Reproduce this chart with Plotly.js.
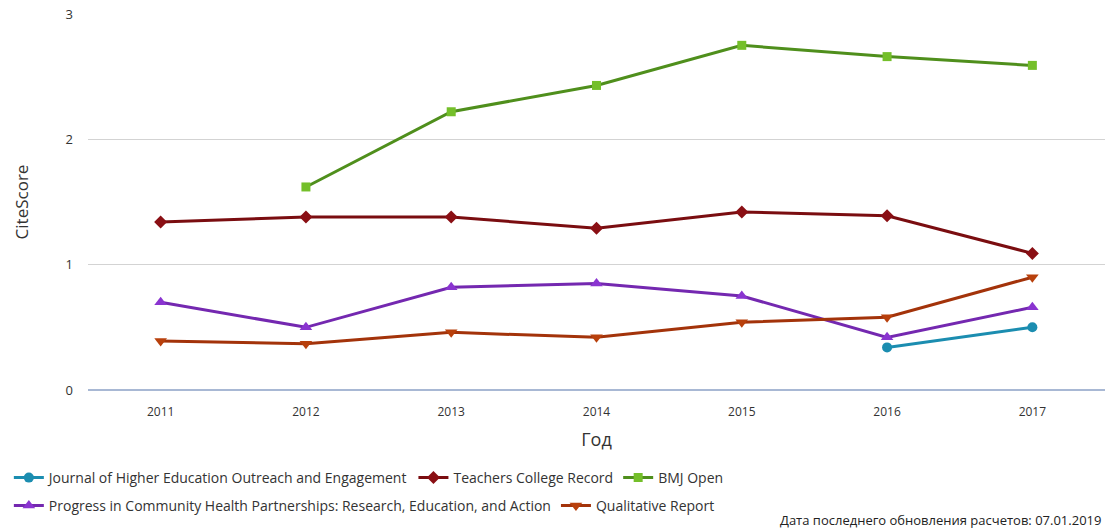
<!DOCTYPE html>
<html>
<head>
<meta charset="utf-8">
<script src="https://cdn.plot.ly/plotly-3.0.1.min.js"></script>
<style>html,body{margin:0;padding:0;background:#fff;}#chart{width:1106px;height:530px;}</style>
</head>
<body>
<div id="chart"></div>
<script>
const years = [2011, 2012, 2013, 2014, 2015, 2016, 2017];
const journalHEOE = [null, null, null, null, null, 0.34, 0.50];
const teachersCollege = [1.34, 1.38, 1.38, 1.29, 1.42, 1.39, 1.09];
const bmjOpen = [null, 1.62, 2.22, 2.43, 2.75, 2.66, 2.59];
const progressCHP = [0.70, 0.50, 0.82, 0.85, 0.75, 0.42, 0.66];
const qualitativeReport = [0.39, 0.37, 0.46, 0.42, 0.54, 0.58, 0.90];
const seriesNames = [
  "Journal of Higher Education Outreach and Engagement",
  "Teachers College Record",
  "BMJ Open",
  "Progress in Community Health Partnerships: Research, Education, and Action",
  "Qualitative Report"
];
const yTicks = [0, 1, 2, 3];
const xTitle = "Год";
const yTitle = "CiteScore";
const footnote = "Дата последнего обновления расчетов: 07.01.2019";

function tr(name, y, color, symbol, size, lineColor, legendId) {
  return {
    x: years, y: y, name: name, type: 'scatter', mode: 'lines+markers',
    connectgaps: false, legend: legendId,
    line: {color: lineColor || color, width: 3},
    marker: {color: color, symbol: symbol, size: size, line: {width: 0}}
  };
}
const data = [
  tr(seriesNames[0], journalHEOE, '#1b8db0', 'circle', 10, null, 'legend'),
  tr(seriesNames[1], teachersCollege, '#8a0f14', 'diamond', 10, '#7a0d10', 'legend'),
  tr(seriesNames[2], bmjOpen, '#74bf2a', 'square', 9, '#4f8f1c', 'legend'),
  tr(seriesNames[3], progressCHP, '#8a34d0', 'triangle-up', 11, '#7428b0', 'legend2'),
  tr(seriesNames[4], qualitativeReport, '#b8400c', 'triangle-down', 11, '#a3330a', 'legend2')
];
const legendBase = {
  orientation: 'h', xref: 'container', yref: 'container',
  xanchor: 'left', yanchor: 'middle',
  font: {size: 14, color: '#333'}, itemwidth: 30, bgcolor: 'rgba(0,0,0,0)'
};
const layout = {
  width: 1106, height: 530,
  margin: {l: 88, r: 1, t: 14, b: 140},
  paper_bgcolor: '#fff', plot_bgcolor: '#fff',
  font: {family: 'Open Sans, sans-serif', color: '#333', size: 12},
  showlegend: true,
  legend: Object.assign({}, legendBase, {x: 0.008, y: 1 - 478 / 530}),
  legend2: Object.assign({}, legendBase, {x: 0.008, y: 1 - 506 / 530}),
  xaxis: {
    range: [2010.5, 2017.5], tickvals: years, ticktext: years.map(String),
    showgrid: false, zeroline: false, showline: false,
    ticks: '', ticklabelstandoff: 13, tickfont: {size: 12, color: '#333'},
    title: {text: xTitle, font: {size: 18, color: '#333'}, standoff: 14}
  },
  yaxis: {
    range: [0, 3], tickvals: yTicks, showgrid: true, gridcolor: '#d3d3d3', gridwidth: 1,
    zeroline: true, zerolinecolor: '#a8b8d4', zerolinewidth: 1.5,
    showline: false, ticks: '', ticklabelstandoff: 14,
    tickfont: {size: 13, color: '#333'},
    title: {text: yTitle, font: {size: 17, color: '#333'}, standoff: 32}
  },
  annotations: [{
    text: footnote, xref: 'paper', yref: 'paper', x: 0.998, y: -0.345,
    xanchor: 'right', yanchor: 'middle', showarrow: false,
    font: {family: 'Liberation Sans Narrow, Open Sans, sans-serif', size: 13, color: '#222'}
  }]
};
Plotly.newPlot('chart', data, layout, {displayModeBar: false, staticPlot: true});
</script>
</body>
</html>
